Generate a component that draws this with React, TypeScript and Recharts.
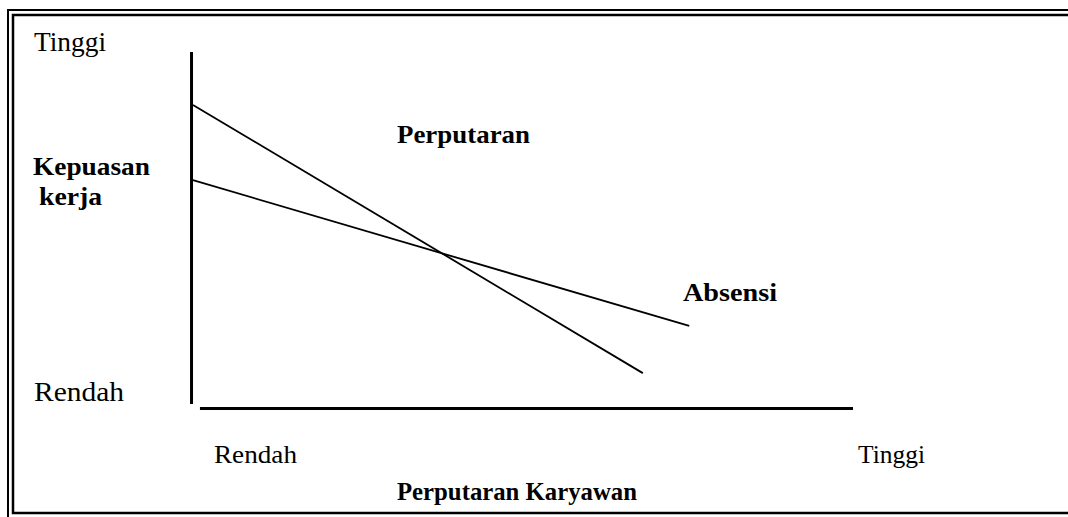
import React from 'react';
import { LineChart, Line, XAxis, YAxis, ReferenceLine } from 'recharts';

// Both scales run 0..100 (low -> high)
const perputaranX = [0.45, 68.3];
const perputaranY = [85.3, 10.8];
const absensiX = [0.45, 75.3];
const absensiY = [64.4, 23.9];

const perputaranData = perputaranX.map((x, i) => ({ x, y: perputaranY[i] }));
const absensiData = absensiX.map((x, i) => ({ x, y: absensiY[i] }));

const W = 1068;
const H = 517;

const serif = '"Liberation Serif", "Times New Roman", serif';

const labels = [
  { text: 'Tinggi', x: 34, y: 51, w: 72, size: 27, bold: false },
  { text: 'Kepuasan', x: 33, y: 175, w: 117, size: 26, bold: true },
  { text: 'kerja', x: 39, y: 205, w: 63, size: 26, bold: true },
  { text: 'Rendah', x: 34, y: 401, w: 90, size: 28, bold: false },
  { text: 'Rendah', x: 214, y: 463, w: 83, size: 25, bold: false },
  { text: 'Tinggi', x: 858, y: 463, w: 67, size: 25, bold: false },
  { text: 'Perputaran Karyawan', x: 397, y: 500, w: 240, size: 25, bold: true },
  { text: 'Perputaran', x: 397, y: 143, w: 133, size: 26, bold: true },
  { text: 'Absensi', x: 683, y: 301, w: 94, size: 26, bold: true },
];

export default function App() {
  return (
    <div style={{ position: 'absolute', left: 0, top: 0, width: W, height: H, background: '#fff', overflow: 'hidden' }}>
      <LineChart width={W} height={H} margin={{ top: 52, left: 190, right: 215, bottom: 105 }}>
        <XAxis dataKey="x" type="number" domain={[0, 100]} hide />
        <YAxis type="number" domain={[0, 100]} hide />
        {/* axes drawn as thick segments, they don't meet at the corner */}
        <ReferenceLine segment={[{ x: 0.23, y: 100 }, { x: 0.23, y: 2.2 }]} stroke="#000" strokeWidth={3} />
        <ReferenceLine segment={[{ x: 1.5, y: 1.0 }, { x: 100, y: 1.0 }]} stroke="#000" strokeWidth={3} />
        <Line data={perputaranData} dataKey="y" stroke="#000" strokeWidth={1.8} dot={false} isAnimationActive={false} />
        <Line data={absensiData} dataKey="y" stroke="#000" strokeWidth={1.8} dot={false} isAnimationActive={false} />
      </LineChart>
      <svg width={W} height={H} style={{ position: 'absolute', left: 0, top: 0, pointerEvents: 'none' }}>
        <rect x={8} y={10} width={W + 20} height={H + 20} fill="none" stroke="#000" strokeWidth={2} />
        <rect x={13} y={15} width={W + 20} height={498} fill="none" stroke="#000" strokeWidth={2.5} />
        {labels.map((l, i) => (
          <text
            key={i}
            x={l.x}
            y={l.y}
            fontFamily={serif}
            fontSize={l.size}
            fontWeight={l.bold ? 'bold' : 'normal'}
            textLength={l.w}
            lengthAdjust="spacingAndGlyphs"
            fill="#000"
          >
            {l.text}
          </text>
        ))}
      </svg>
    </div>
  );
}
